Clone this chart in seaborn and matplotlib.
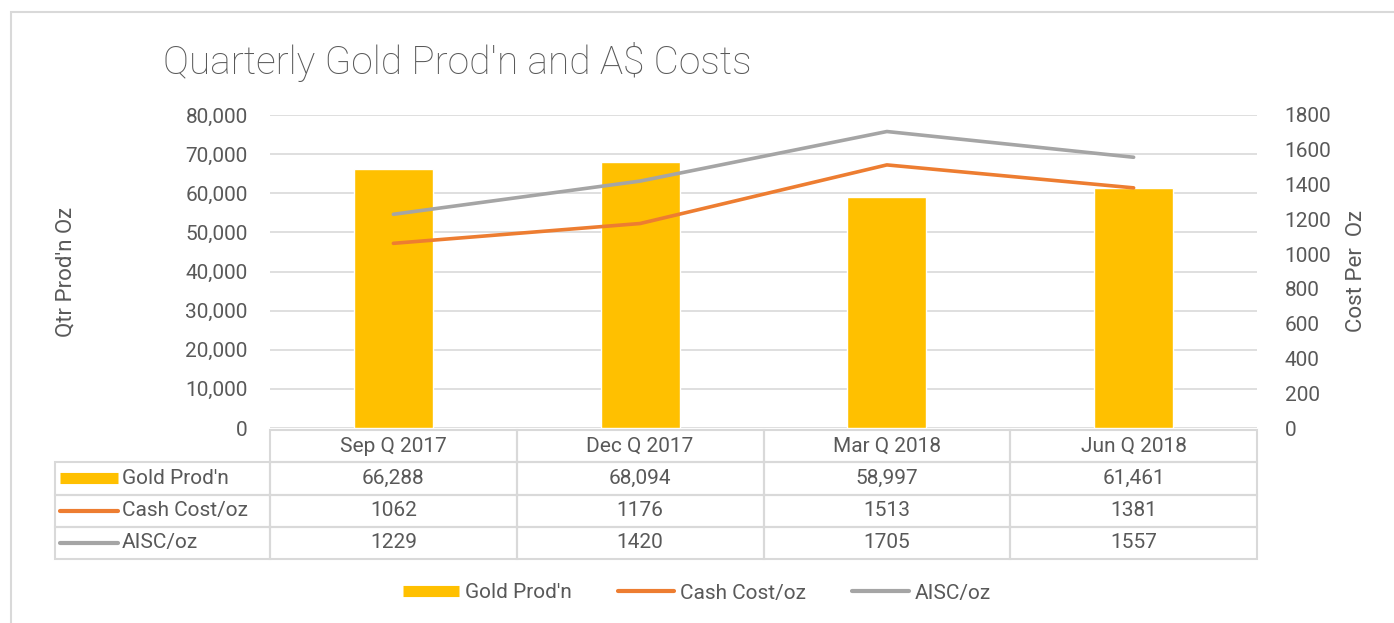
import matplotlib
matplotlib.use("Agg")
import matplotlib.pyplot as plt
import seaborn as sns
import pandas as pd
import numpy as np
from matplotlib.patches import Rectangle
from matplotlib.lines import Line2D

quarters = ["Sep Q 2017", "Dec Q 2017", "Mar Q 2018", "Jun Q 2018"]
gold_prod = [66288, 68094, 58997, 61461]
cash_cost = [1062, 1176, 1513, 1381]
aisc = [1229, 1420, 1705, 1557]
series_names = ["Gold Prod'n", "Cash Cost/oz", "AISC/oz"]

GOLD = "#FFC000"
ORANGE = "#ED7D31"
GREY = "#A5A5A5"
TXT = "#595959"
GRID = "#D9D9D9"

sns.set_theme(style="white")
plt.rcParams["font.family"] = ["Roboto", "DejaVu Sans"]
plt.rcParams["text.color"] = TXT

W, H = 1394, 623
fig = plt.figure(figsize=(W / 100, H / 100), dpi=100)

# outer border
fig.patches.append(Rectangle((11 / W, -0.2), 1.2, 1.2 - 12 / H, transform=fig.transFigure,
                             fill=False, edgecolor="#D9D9D9", linewidth=1.5))

axL, axR, axT, axB = 270, 1257, 115, 428
ax = fig.add_axes([axL / W, 1 - axB / H, (axR - axL) / W, (axB - axT) / H])
axw, axh = axR - axL, axB - axT

df = pd.DataFrame({"quarter": quarters, "gold": gold_prod})
sns.barplot(data=df, x="quarter", y="gold", color=GOLD, saturation=1, width=0.32, ax=ax, zorder=3)
ax.set_ylim(0, 80000)
ax.set_xlim(-0.5, 3.5)
ax.set_yticks(np.arange(0, 80001, 10000))
ax.set_yticklabels([f"{v:,}" for v in range(0, 80001, 10000)], fontsize=15, color=TXT)
ax.set_xticks([])
ax.set_xlabel("")
ax.set_ylabel("Qtr Prod'n Oz", fontsize=16, color=TXT)
ax.yaxis.set_label_coords((77 - axL) / axw, 0.5)
ax.grid(axis="y", color=GRID, linewidth=1.2, zorder=0)
ax.set_axisbelow(True)
for s in ax.spines.values():
    s.set_visible(False)
ax.tick_params(axis="y", length=0, pad=16)

ax2 = ax.twinx()
x = np.arange(len(quarters))
sns.lineplot(x=x, y=cash_cost, color=ORANGE, linewidth=2.6, ax=ax2, zorder=4)
sns.lineplot(x=x, y=aisc, color=GREY, linewidth=2.6, ax=ax2, zorder=4)
ax2.set_ylim(0, 1800)
ax2.set_yticks(np.arange(0, 1801, 200))
ax2.set_yticklabels([str(v) for v in range(0, 1801, 200)], fontsize=15, color=TXT)
ax2.set_ylabel("Cost Per  Oz", fontsize=16, color=TXT)
ax2.yaxis.set_label_coords((1346 - axL) / axw, 0.5)
ax2.tick_params(axis="y", length=0, pad=20)
for s in ax2.spines.values():
    s.set_visible(False)
ax2.grid(False)

# data table
tL, tT, tB = 55, 430, 559
rows = [[""] + [f"{v:,}" for v in gold_prod],
        [""] + [str(v) for v in cash_cost],
        [""] + [str(v) for v in aisc]]
labcol = axL - tL
colw = [labcol] + [axw / 4] * 4
tbl = ax.table(cellText=rows, colLabels=[""] + quarters, colWidths=colw,
               cellLoc="center", colLoc="center",
               bbox=[(tL - axL) / axw, (axB - tB) / axh, (axR - tL) / axw, (tB - tT) / axh])
tbl.auto_set_font_size(False)
tbl.set_fontsize(15)
for (r, c), cell in tbl.get_celld().items():
    cell.set_edgecolor(GRID)
    cell.set_linewidth(1.5)
    cell.get_text().set_color(TXT)
    cell.set_facecolor("none")
tbl[0, 0].visible_edges = ""

# row labels with legend keys
row_h = (tB - tT) / 4
keys = [("bar", GOLD), ("line", ORANGE), ("line", GREY)]
for i, (name, (kind, col)) in enumerate(zip(series_names, keys)):
    yc = tT + row_h * (i + 1.5)
    ya = (axB - yc) / axh
    x0, x1 = (60 - axL) / axw, (118 - axL) / axw
    if kind == "bar":
        ax.plot([x0, x1], [ya, ya], color=col, linewidth=8, solid_capstyle="butt",
                transform=ax.transAxes, clip_on=False)
    else:
        ax.plot([x0, x1], [ya, ya], color=col, linewidth=3, solid_capstyle="round",
                transform=ax.transAxes, clip_on=False)
    ax.text((122 - axL) / axw, ya, name, transform=ax.transAxes, fontsize=15,
            color=TXT, va="center", ha="left")

# title
fig.text(163 / W, 1 - 62 / H, "Quarterly Gold Prod'n and A$ Costs", fontsize=28,
         color=TXT, va="center", ha="left", fontweight="light")

# legend
handles = [Line2D([0], [0], color=GOLD, linewidth=8, solid_capstyle="butt"),
           Line2D([0], [0], color=ORANGE, linewidth=3, solid_capstyle="round"),
           Line2D([0], [0], color=GREY, linewidth=3, solid_capstyle="round")]
fig.legend(handles, series_names, loc="center", bbox_to_anchor=(0.5, 1 - 593 / H), ncol=3,
           frameon=False, handlelength=2.7, handletextpad=0.3, columnspacing=2.2,
           prop={"size": 15}, labelcolor=TXT)

fig.savefig("out.png", dpi=100)
